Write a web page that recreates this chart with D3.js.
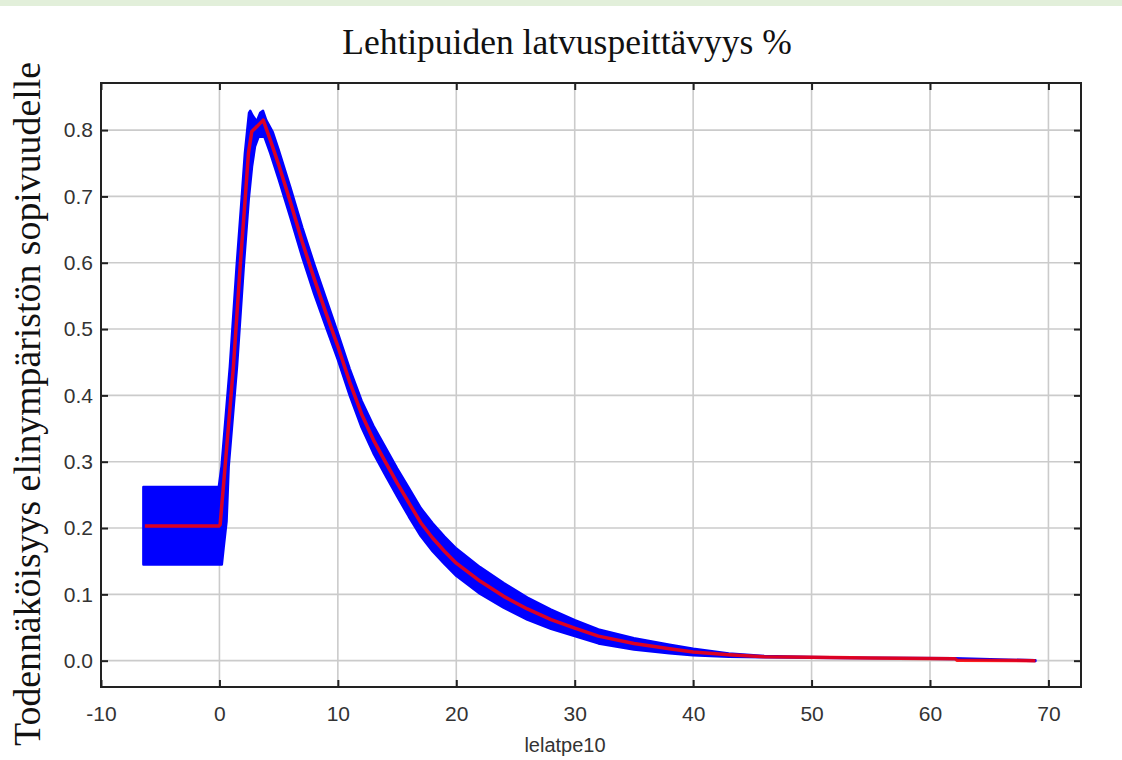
<!DOCTYPE html>
<html>
<head>
<meta charset="utf-8">
<script src="https://cdnjs.cloudflare.com/ajax/libs/d3/7.8.5/d3.min.js"></script>
<style>
  body { margin: 0; background: #fff; }
  #chart { width: 1122px; height: 760px; }
</style>
</head>
<body>
<div id="chart"></div>
<script>
var titleText = 'Lehtipuiden latvuspeittävyys %';
var xLabel = 'lelatpe10';
var yLabel = 'Todennäköisyys elinympäristön sopivuudelle';

var xTicks = [-10, 0, 10, 20, 30, 40, 50, 60, 70];
var yTicks = [0.0, 0.1, 0.2, 0.3, 0.4, 0.5, 0.6, 0.7, 0.8];

/* red mean response curve */
var meanX = [-6.3, -0.05, 0.06, 0.48, 1.18, 1.75, 2.17, 2.45, 2.73, 3.2, 3.7, 4.3, 5, 6, 7, 8, 9, 10, 11, 12, 13, 14, 15, 16, 17, 18, 19, 20, 22, 24, 26, 28, 30, 32, 35, 38, 40, 43, 46, 50, 55, 62.1, 62.3, 68.9];
var meanY = [0.203, 0.203, 0.205, 0.293, 0.443, 0.594, 0.695, 0.765, 0.798, 0.806, 0.815, 0.785, 0.748, 0.691, 0.631, 0.576, 0.524, 0.474, 0.42, 0.372, 0.333, 0.300, 0.268, 0.238, 0.208, 0.185, 0.165, 0.147, 0.12, 0.097, 0.078, 0.062, 0.049, 0.037, 0.026, 0.018, 0.013, 0.009, 0.006, 0.005, 0.004, 0.003, 0.0005, 0.0];

/* blue envelope of the bootstrap curves: upper edge */
var bandTopX = [-6.42, -0.05, 0.18, 0.88, 1.45, 1.87, 2.15, 2.35, 2.5, 2.6, 2.8, 3.15, 3.45, 3.68, 3.95, 4.5, 5, 6, 7, 8, 9, 10, 11, 12, 13, 14, 15, 16, 17, 18, 19, 20, 22, 24, 26, 28, 30, 32, 35, 38, 40, 43, 46, 50, 55, 62, 68.9];
var bandTopY = [0.262, 0.262, 0.293, 0.443, 0.594, 0.695, 0.765, 0.80, 0.826, 0.829, 0.822, 0.813, 0.826, 0.829, 0.815, 0.797, 0.77, 0.713, 0.653, 0.598, 0.546, 0.494, 0.44, 0.392, 0.354, 0.322, 0.29, 0.26, 0.23, 0.207, 0.187, 0.169, 0.141, 0.117, 0.095, 0.077, 0.061, 0.047, 0.034, 0.024, 0.018, 0.011, 0.007, 0.0055, 0.0045, 0.0035, 0.0005];

/* blue envelope: lower edge */
var bandBotX = [-6.42, 0.2, 0.35, 0.6, 0.78, 1.48, 2.05, 2.47, 2.75, 3.0, 3.3, 3.8, 4.3, 5, 6, 7, 8, 9, 10, 11, 12, 13, 14, 15, 16, 17, 18, 19, 20, 22, 24, 26, 28, 30, 32, 35, 38, 40, 43, 46, 50, 55, 62, 68.9];
var bandBotY = [0.145, 0.145, 0.17, 0.21, 0.293, 0.443, 0.594, 0.695, 0.745, 0.775, 0.79, 0.79, 0.765, 0.726, 0.668, 0.608, 0.553, 0.503, 0.454, 0.40, 0.352, 0.313, 0.28, 0.248, 0.217, 0.188, 0.165, 0.146, 0.128, 0.101, 0.08, 0.062, 0.048, 0.037, 0.026, 0.017, 0.011, 0.008, 0.006, 0.005, 0.0045, 0.0035, 0.0025, -0.0005];

var drawChart = function(htmlID) {

    var width = 1122,
        height = 760,
        margin = { top: 83, right: 41, bottom: 73, left: 101 },
        plotW = width - margin.left - margin.right,
        plotH = height - margin.top - margin.bottom;

    var svg = d3.select(htmlID)
        .append('svg')
        .attr('width', width)
        .attr('height', height);

    /* thin green strip along the top */
    svg.append('rect')
        .attr('x', 0)
        .attr('y', 0)
        .attr('width', width)
        .attr('height', 6)
        .attr('fill', '#e2efda');

    var x = d3.scaleLinear().domain([-10, 72.75]).range([0, plotW]);
    var y = d3.scaleLinear().domain([-0.0397, 0.871]).range([plotH, 0]);

    var g = svg.append('g')
        .attr('transform', 'translate(' + margin.left + ',' + margin.top + ')');

    /* grid */
    g.append('g')
        .selectAll('line')
        .data(xTicks.slice(1))
        .enter().append('line')
        .attr('x1', function(d) { return x(d); })
        .attr('x2', function(d) { return x(d); })
        .attr('y1', 0)
        .attr('y2', plotH)
        .attr('stroke', '#cbcbcb')
        .attr('stroke-width', 1.6);

    g.append('g')
        .selectAll('line')
        .data(yTicks)
        .enter().append('line')
        .attr('x1', 0)
        .attr('x2', plotW)
        .attr('y1', function(d) { return y(d); })
        .attr('y2', function(d) { return y(d); })
        .attr('stroke', '#cbcbcb')
        .attr('stroke-width', 1.6);

    /* blue band: upper edge forward, lower edge back */
    var top = bandTopX.map(function(v, i) { return [v, bandTopY[i]]; });
    var bot = bandBotX.map(function(v, i) { return [v, bandBotY[i]]; }).reverse();

    var line = d3.line()
        .x(function(d) { return x(d[0]); })
        .y(function(d) { return y(d[1]); });

    g.append('path')
        .attr('d', line(top.concat(bot)) + 'Z')
        .attr('fill', '#0000ff')
        .attr('stroke', '#0000ff')
        .attr('stroke-width', 2.5)
        .attr('stroke-linejoin', 'round');

    /* red mean line */
    var mean = meanX.map(function(v, i) { return [v, meanY[i]]; });

    g.append('path')
        .attr('d', line(mean))
        .attr('fill', 'none')
        .attr('stroke', '#ff0000')
        .attr('stroke-opacity', 0.86)
        .attr('stroke-width', 3.5)
        .attr('stroke-linejoin', 'round');

    /* axes, ticks pointing inward on all sides */
    var bottomAxis = g.append('g')
        .attr('transform', 'translate(0,' + plotH + ')')
        .call(d3.axisBottom(x).tickValues(xTicks).tickSizeInner(-7).tickSizeOuter(0).tickPadding(19)
            .tickFormat(function(d) { return String(d); }));

    var leftAxis = g.append('g')
        .call(d3.axisLeft(y).tickValues(yTicks).tickSizeInner(-7).tickSizeOuter(0).tickPadding(8)
            .tickFormat(d3.format('.1f')));

    var topAxis = g.append('g')
        .call(d3.axisTop(x).tickValues(xTicks).tickSizeInner(-7).tickSizeOuter(0).tickFormat(''));

    var rightAxis = g.append('g')
        .attr('transform', 'translate(' + plotW + ',0)')
        .call(d3.axisRight(y).tickValues(yTicks).tickSizeInner(-7).tickSizeOuter(0).tickFormat(''));

    [bottomAxis, leftAxis, topAxis, rightAxis].forEach(function(a) {
        a.select('.domain').remove();
        a.selectAll('line').attr('stroke', '#222').attr('stroke-width', 2);
        a.selectAll('text')
            .attr('fill', '#333')
            .style('font-family', '"Liberation Sans", Arial, sans-serif')
            .style('font-size', '21px');
    });

    /* frame */
    g.append('rect')
        .attr('x', 0)
        .attr('y', 0)
        .attr('width', plotW)
        .attr('height', plotH)
        .attr('fill', 'none')
        .attr('stroke', '#222')
        .attr('stroke-width', 2);

    /* titles */
    svg.append('text')
        .attr('x', 567)
        .attr('y', 54)
        .attr('text-anchor', 'middle')
        .style('font-family', '"Liberation Serif", "Times New Roman", serif')
        .style('font-size', '35.5px')
        .attr('fill', '#111')
        .text(titleText);

    svg.append('text')
        .attr('transform', 'translate(40,404) rotate(-90)')
        .attr('text-anchor', 'middle')
        .style('font-family', '"Liberation Serif", "Times New Roman", serif')
        .style('font-size', '37.8px')
        .attr('fill', '#111')
        .text(yLabel);

    svg.append('text')
        .attr('x', 565)
        .attr('y', 752)
        .attr('text-anchor', 'middle')
        .style('font-family', '"Liberation Sans", Arial, sans-serif')
        .style('font-size', '20px')
        .attr('fill', '#333')
        .text(xLabel);

}

drawChart('#chart');
</script>
</body>
</html>
